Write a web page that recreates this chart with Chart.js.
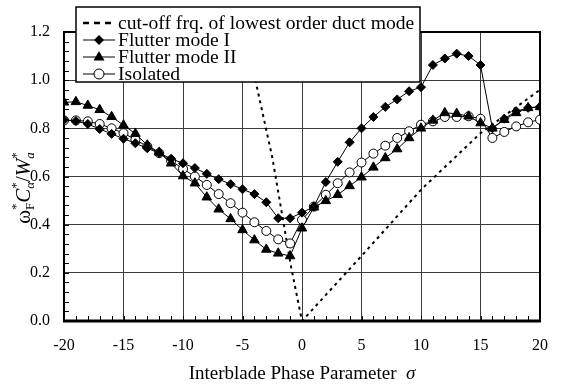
<!DOCTYPE html>
<html>
<head>
<meta charset="utf-8">
<script src="https://cdn.jsdelivr.net/npm/chart.js@4.4.0/dist/chart.umd.min.js"></script>
<style>
  html, body { margin: 0; padding: 0; background: #fff; }
</style>
</head>
<body>
<canvas id="chart" width="563" height="385"></canvas>
<script>
// Interblade phase parameter (x values for every series)
const sigma = [-20, -19, -18, -17, -16, -15, -14, -13, -12, -11, -10, -9, -8, -7, -6, -5, -4, -3, -2, -1,
               0, 1, 2, 3, 4, 5, 6, 7, 8, 9, 10, 11, 12, 13, 14, 15, 16, 17, 18, 19, 20];

const flutterI = [0.835, 0.830, 0.818, 0.797, 0.777, 0.757, 0.738, 0.717, 0.697, 0.674,
                  0.655, 0.635, 0.611, 0.589, 0.568, 0.547, 0.527, 0.493, 0.427, 0.427,
                  0.450, 0.475, 0.577, 0.661, 0.742, 0.800, 0.847, 0.889, 0.920, 0.954,
                  0.971, 1.063, 1.090, 1.110, 1.100, 1.063, 0.800, 0.840, 0.871, 0.885, 0.890];

const flutterII = [0.908, 0.910, 0.895, 0.877, 0.848, 0.813, 0.778, 0.730, 0.700, 0.655,
                   0.602, 0.572, 0.514, 0.464, 0.424, 0.378, 0.336, 0.297, 0.281, 0.270,
                   0.385, 0.472, 0.499, 0.524, 0.561, 0.597, 0.638, 0.677, 0.714, 0.760,
                   0.800, 0.833, 0.864, 0.861, 0.850, 0.822, 0.800, 0.836, 0.864, 0.885, 0.889];

const isolated = [0.833, 0.833, 0.829, 0.818, 0.800, 0.780, 0.753, 0.725, 0.697, 0.665,
                  0.632, 0.600, 0.565, 0.527, 0.489, 0.450, 0.410, 0.374, 0.339, 0.322,
                  0.420, 0.475, 0.524, 0.572, 0.617, 0.658, 0.695, 0.728, 0.760, 0.788,
                  0.815, 0.829, 0.847, 0.847, 0.850, 0.840, 0.760, 0.785, 0.808, 0.825, 0.836];

// cut-off frequency of lowest order duct mode
const cutoffX = [-4.8, -2.5, -0.9, 0, 5, 10, 15, 20];
const cutoffY = [1.2, 0.68, 0.22, 0.0, 0.27, 0.545, 0.78, 0.96];

const xTicks = [-20, -15, -10, -5, 0, 5, 10, 15, 20];
const yTicks = [0, 0.2, 0.4, 0.6, 0.8, 1.0, 1.2];

const legendLabels = ['cut-off frq. of lowest order duct mode', 'Flutter mode I', 'Flutter mode II', 'Isolated'];

const serif = '"Liberation Serif", "Times New Roman", serif';

function toPoints(xs, ys) {
    return xs.map((x, i) => ({ x: x, y: ys[i] }));
}

// draw a run of text pieces (supports stacked super/subscripts)
function drawRuns(ctx, runs, x0, y0, measureOnly) {
    let x = x0;
    runs.forEach(r => {
        if (r.stack) {
            let w = 0;
            r.stack.forEach(p => {
                ctx.font = (p.italic ? 'italic ' : '') + p.size + 'px ' + serif;
                w = Math.max(w, ctx.measureText(p.t).width);
                if (!measureOnly) ctx.fillText(p.t, x, y0 + p.dy);
            });
            x += w;
        } else {
            ctx.font = (r.italic ? 'italic ' : '') + r.size + 'px ' + serif;
            if (!measureOnly) ctx.fillText(r.t, x, y0 + (r.dy || 0));
            x += ctx.measureText(r.t).width;
        }
    });
    return x - x0;
}

const yTitleRuns = [
    { t: '\u03C9', size: 21 },
    { stack: [{ t: '*', size: 13, dy: -10 }, { t: 'F', size: 13, dy: 4 }] },
    { t: 'C', size: 21, italic: true },
    { stack: [{ t: '*', size: 13, dy: -10 }, { t: '\u03B1', size: 13, dy: 4, italic: true }] },
    { t: '/', size: 21 },
    { t: 'W', size: 21, italic: true },
    { stack: [{ t: '*', size: 13, dy: -10 }, { t: 'a', size: 13, dy: 4, italic: true }] }
];

const xTitleRuns = [
    { t: 'Interblade Phase Parameter  ', size: 19 },
    { t: '\u03C3', size: 19, italic: true }
];

const decorPlugin = {
    id: 'decor',
    beforeDatasetsDraw(chart) {
        const ctx = chart.ctx;
        const { left, right, top, bottom } = chart.chartArea;
        const xs = chart.scales.x, ys = chart.scales.y;
        ctx.save();
        ctx.strokeStyle = '#000';
        ctx.lineWidth = 1;
        ctx.beginPath();
        // minor ticks every 1 on x, every 0.04 on y
        for (let v = -20; v <= 20; v++) {
            const px = Math.round(xs.getPixelForValue(v)) + 0.5;
            ctx.moveTo(px, bottom);
            ctx.lineTo(px, bottom - 5);
        }
        for (let k = 0; k <= 30; k++) {
            const py = Math.round(ys.getPixelForValue(k * 0.04)) + 0.5;
            ctx.moveTo(left, py);
            ctx.lineTo(left + 5, py);
        }
        ctx.stroke();
        // frame
        ctx.lineWidth = 2;
        ctx.strokeRect(left, top, right - left, bottom - top);
        ctx.lineWidth = 3;
        ctx.beginPath();
        ctx.moveTo(left - 1, bottom);
        ctx.lineTo(right + 1, bottom);
        ctx.stroke();
        ctx.restore();
    },
    afterDraw(chart) {
        const ctx = chart.ctx;
        const { left, right } = chart.chartArea;
        ctx.save();
        ctx.fillStyle = '#000';
        ctx.textBaseline = 'alphabetic';

        // x axis title
        const wx = drawRuns(ctx, xTitleRuns, 0, 0, true);
        drawRuns(ctx, xTitleRuns, (left + right) / 2 - wx / 2, 379, false);

        // y axis title (rotated)
        const wy = drawRuns(ctx, yTitleRuns, 0, 0, true);
        ctx.save();
        ctx.translate(30, 188);
        ctx.rotate(-Math.PI / 2);
        drawRuns(ctx, yTitleRuns, -wy / 2, 0, false);
        ctx.restore();

        // legend box
        const bx = 76, by = 7, bw = 344, bh = 75;
        ctx.fillStyle = '#fff';
        ctx.fillRect(bx, by, bw, bh);
        ctx.strokeStyle = '#000';
        ctx.lineWidth = 1.5;
        ctx.strokeRect(bx, by, bw, bh);

        const rows = [23, 40, 57, 74];
        const sx0 = 83, sx1 = 115, mx = 99;
        ctx.textBaseline = 'middle';
        rows.forEach((ry, i) => {
            ctx.strokeStyle = '#000';
            ctx.fillStyle = '#000';
            ctx.beginPath();
            if (i === 0) {
                ctx.lineWidth = 2.5;
                ctx.setLineDash([6, 5]);
            } else {
                ctx.lineWidth = 1;
                ctx.setLineDash([]);
            }
            ctx.moveTo(sx0, ry);
            ctx.lineTo(sx1, ry);
            ctx.stroke();
            ctx.setLineDash([]);
            ctx.lineWidth = 1;
            if (i === 1) {
                ctx.beginPath();
                ctx.moveTo(mx, ry - 5); ctx.lineTo(mx + 5, ry); ctx.lineTo(mx, ry + 5); ctx.lineTo(mx - 5, ry);
                ctx.closePath(); ctx.fill();
            } else if (i === 2) {
                ctx.beginPath();
                ctx.moveTo(mx, ry - 6); ctx.lineTo(mx + 5.5, ry + 3.5); ctx.lineTo(mx - 5.5, ry + 3.5);
                ctx.closePath(); ctx.fill();
            } else if (i === 3) {
                ctx.beginPath();
                ctx.arc(mx, ry, 5, 0, Math.PI * 2);
                ctx.fillStyle = '#fff'; ctx.fill(); ctx.stroke();
                ctx.fillStyle = '#000';
            }
            ctx.font = '19.6px ' + serif;
            ctx.fillText(legendLabels[i], 118, ry + 1);
        });
        ctx.restore();
    }
};

const chart = new Chart(document.getElementById('chart'), {
    type: 'line',
    data: {
        datasets: [
            {
                label: legendLabels[1],
                data: toPoints(sigma, flutterI),
                borderColor: '#000',
                borderWidth: 1,
                backgroundColor: '#000',
                pointStyle: 'rectRot',
                pointRadius: 4.5,
                pointBackgroundColor: '#000',
                pointBorderColor: '#000',
                pointBorderWidth: 1
            },
            {
                label: legendLabels[2],
                data: toPoints(sigma, flutterII),
                borderColor: '#000',
                borderWidth: 1,
                pointStyle: 'triangle',
                pointRadius: 5.5,
                pointBackgroundColor: '#000',
                pointBorderColor: '#000',
                pointBorderWidth: 1
            },
            {
                label: legendLabels[3],
                data: toPoints(sigma, isolated),
                borderColor: '#000',
                borderWidth: 1,
                pointStyle: 'circle',
                pointRadius: 4.5,
                pointBackgroundColor: '#fff',
                pointBorderColor: '#000',
                pointBorderWidth: 1
            },
            {
                label: legendLabels[0],
                data: toPoints(cutoffX, cutoffY),
                borderColor: '#000',
                borderWidth: 2,
                borderDash: [3, 4],
                pointRadius: 0
            }
        ]
    },
    options: {
        responsive: false,
        animation: false,
        layout: { padding: { left: 0, right: 8, top: 32, bottom: 0 } },
        plugins: {
            legend: { display: false },
            tooltip: { enabled: false }
        },
        scales: {
            x: {
                type: 'linear',
                min: -20,
                max: 20,
                afterBuildTicks: s => { s.ticks = xTicks.map(v => ({ value: v })); },
                afterFit: s => { s.height = 64; },
                ticks: {
                    color: '#000',
                    font: { family: serif, size: 16 },
                    padding: 15,
                    maxRotation: 0
                },
                grid: { color: '#3a3a3a', lineWidth: 1, drawTicks: false },
                border: { display: false }
            },
            y: {
                type: 'linear',
                min: 0,
                max: 1.2,
                afterBuildTicks: s => { s.ticks = yTicks.map(v => ({ value: v })); },
                afterFit: s => { s.width = 64; },
                ticks: {
                    color: '#000',
                    font: { family: serif, size: 16 },
                    padding: 14,
                    callback: v => v.toFixed(1)
                },
                grid: { color: '#3a3a3a', lineWidth: 1, drawTicks: false },
                border: { display: false }
            }
        }
    },
    plugins: [decorPlugin]
});
</script>
</body>
</html>
